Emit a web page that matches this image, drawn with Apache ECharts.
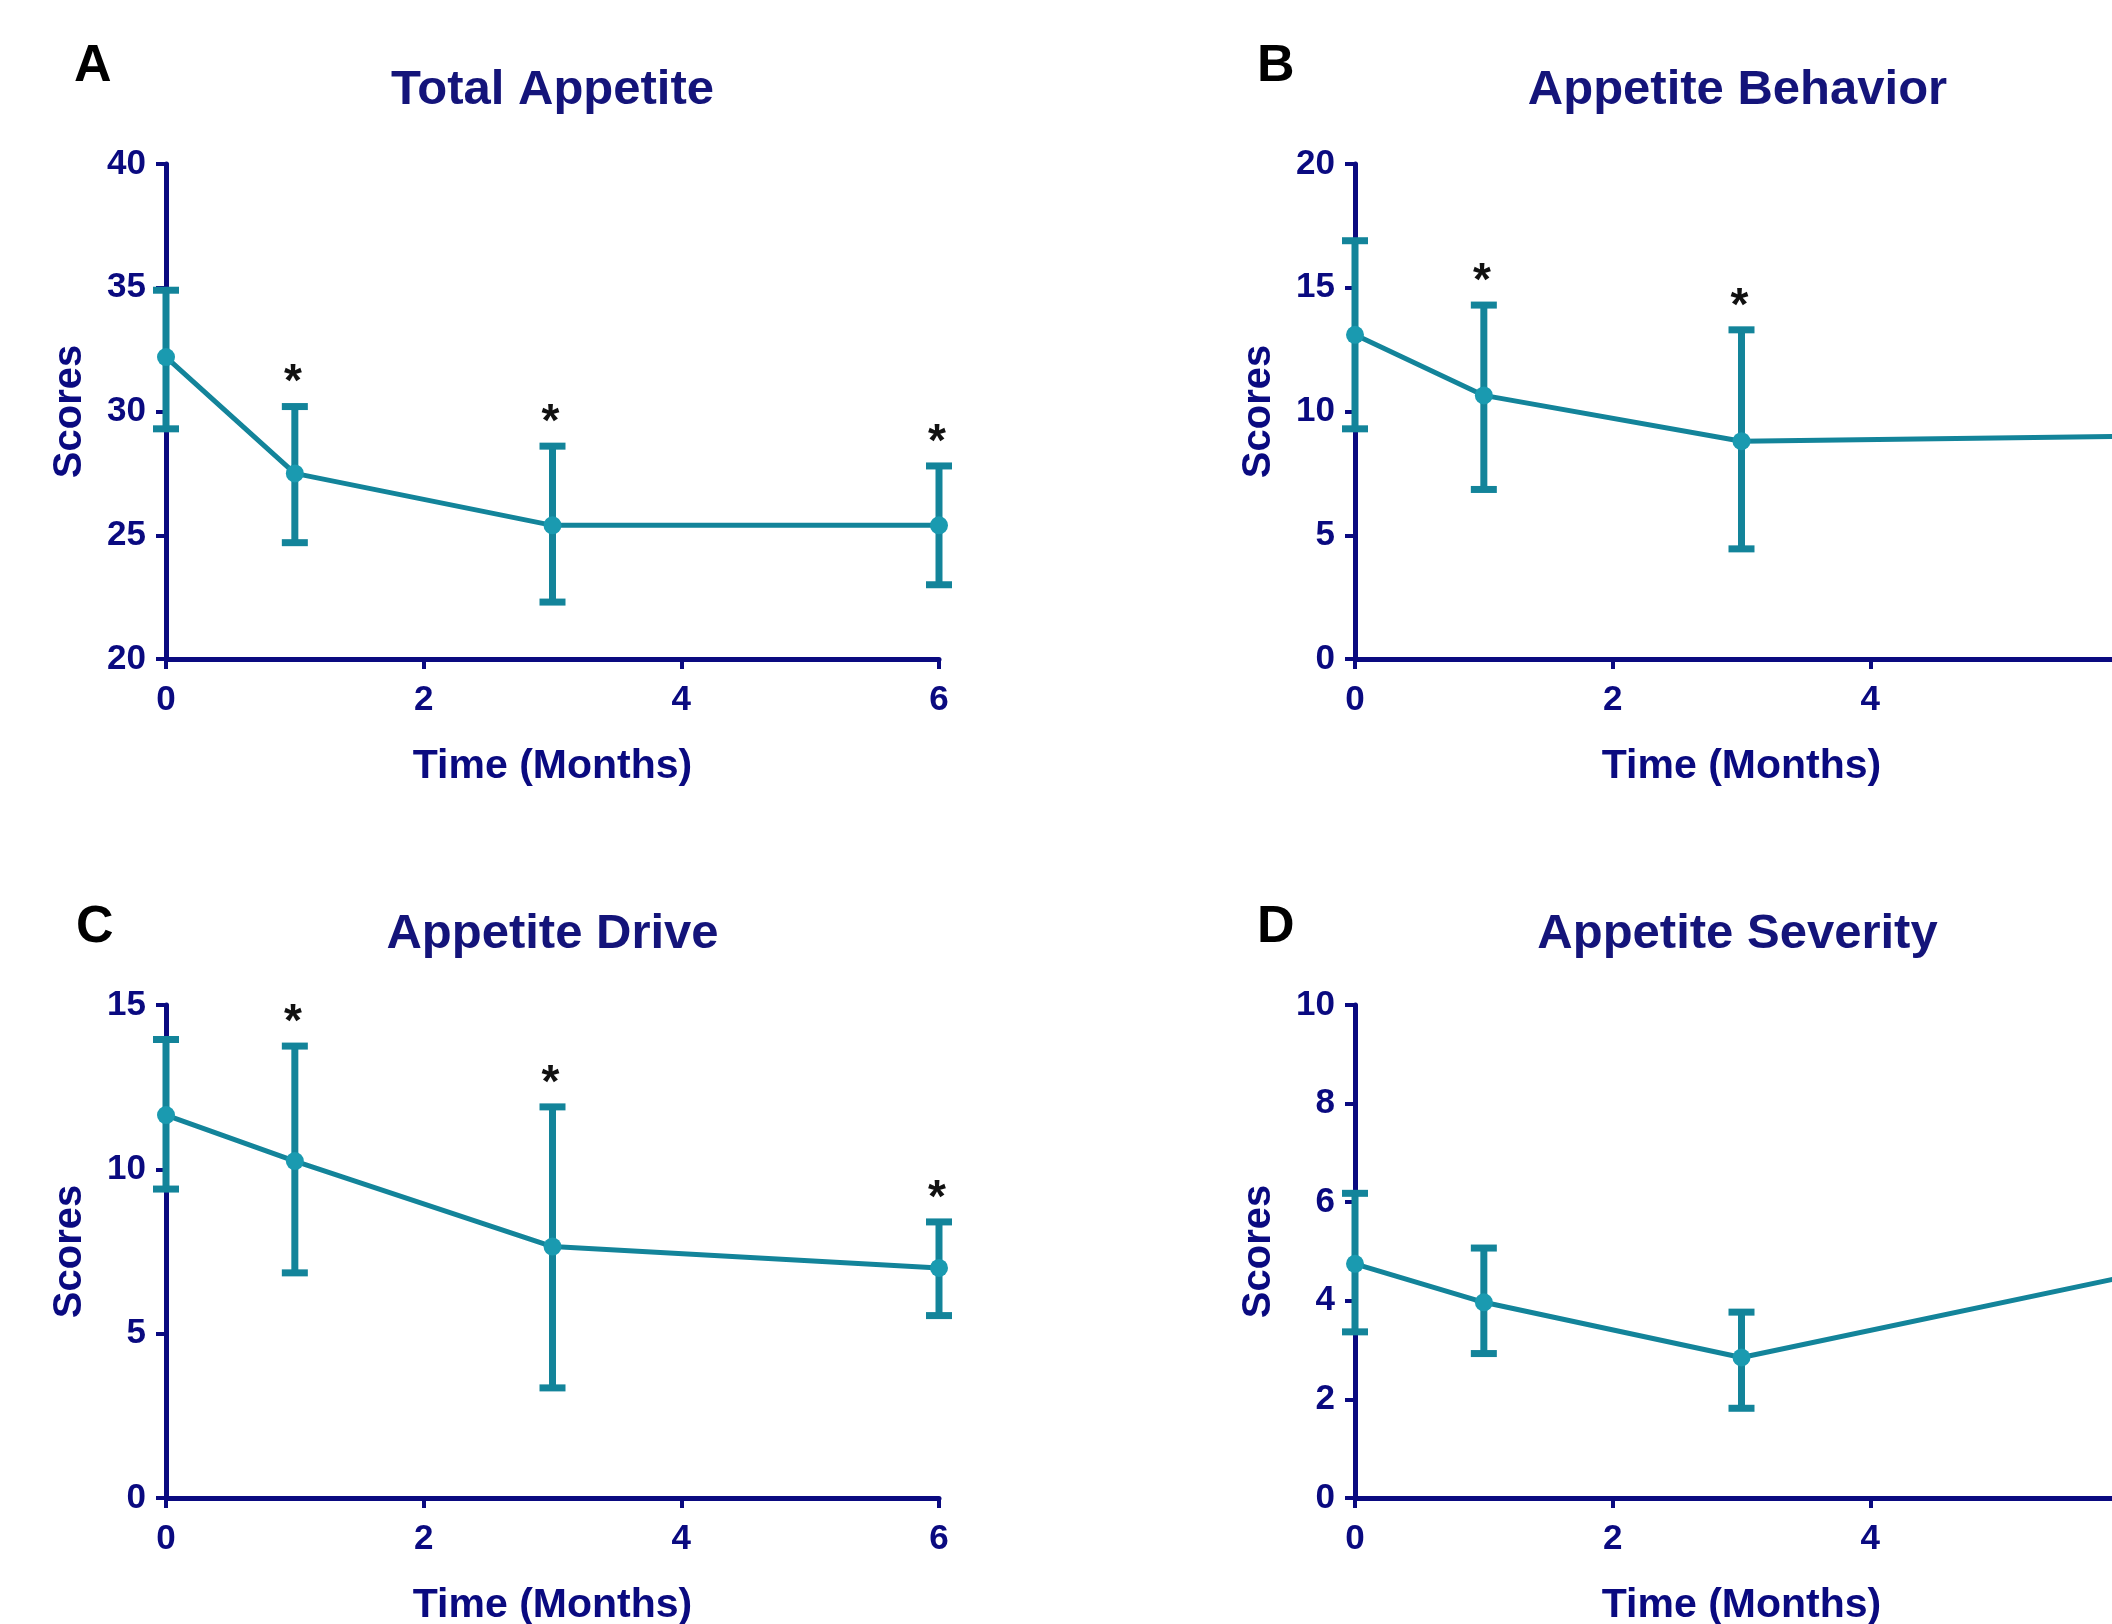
<!DOCTYPE html>
<html><head><meta charset="utf-8">
<script src="https://cdn.jsdelivr.net/npm/echarts@6/dist/echarts.min.js"></script>
<style>html,body{margin:0;padding:0;background:#fff}#c{width:2112px;height:1624px}</style>
</head><body><div id="c"></div>
<script>
// ---- data ----
const months = [0, 1, 3, 6];
const xTicks = [0, 2, 4, 6];

const totalMean = [32.2, 27.5, 25.4, 25.4];
const totalLow  = [29.3, 24.7, 22.3, 23.0];
const totalHigh = [34.9, 30.2, 28.6, 27.8];
const totalStar = [0, 1, 1, 1];

const behaviorMean = [13.1, 10.65, 8.8, 9.0];
const behaviorLow  = [9.3, 6.85, 4.45, 5.6];
const behaviorHigh = [16.9, 14.3, 13.3, 12.4];
const behaviorStar = [0, 1, 1, 1];

const driveMean = [11.65, 10.25, 7.65, 7.0];
const driveLow  = [9.4, 6.85, 3.35, 5.55];
const driveHigh = [13.95, 13.75, 11.9, 8.4];
const driveStar = [0, 1, 1, 1];

const severityMean = [4.75, 3.97, 2.85, 4.5];
const severityLow  = [3.37, 2.93, 1.82, 3.2];
const severityHigh = [6.18, 5.07, 3.77, 5.8];
const severityStar = [0, 0, 0, 0];

const panelTitles = ['Total Appetite', 'Appetite Behavior', 'Appetite Drive', 'Appetite Severity'];
const panelLetters = ['A', 'B', 'C', 'D'];
const yMins = [20, 0, 0, 0];
const yMaxs = [40, 20, 15, 10];
const ySteps = [5, 5, 5, 2];
const xName = 'Time (Months)';
const yName = 'Scores';

// ---- layout / style ----
const FONT = '"Liberation Sans", Arial, sans-serif';
const NAVY = '#0a0a80';
const LINE = '#13849a';
const MARK = '#1a9ab0';
const gridLeft = [166, 1355, 166, 1355];
const gridTop = [164, 164, 1005, 1005];
const gridW = 773;
const gridH = [495, 495, 493, 493];
const titleY = [66, 66, 910, 910];
const letterX = [74, 1257, 76, 1257];
const letterY = [41, 41, 902, 902];

const means = [totalMean, behaviorMean, driveMean, severityMean];
const lows = [totalLow, behaviorLow, driveLow, severityLow];
const highs = [totalHigh, behaviorHigh, driveHigh, severityHigh];
const stars = [totalStar, behaviorStar, driveStar, severityStar];

const grids = [], xAxes = [], yAxes = [], series = [], graphics = [];
for (let i = 0; i < 4; i++) {
  grids.push({left: gridLeft[i], top: gridTop[i], width: gridW, height: gridH[i],
    containLabel: false, outerBoundsMode: 'none'});
  xAxes.push({
    type: 'value', gridIndex: i, min: 0, max: 6, interval: 2,
    axisLine: {show: true, onZero: false, lineStyle: {color: NAVY, width: 5}},
    axisTick: {show: true, length: 10, lineStyle: {color: NAVY, width: 4}},
    axisLabel: {color: NAVY, fontWeight: 'bold', fontSize: 35, fontFamily: FONT, margin: 24,
      formatter: v => xTicks.includes(v) ? String(v) : ''},
    splitLine: {show: false},
    name: xName, nameLocation: 'middle', nameGap: 87,
    nameTextStyle: {color: NAVY, fontWeight: 'bold', fontSize: 41, fontFamily: FONT}
  });
  yAxes.push({
    type: 'value', gridIndex: i, min: yMins[i], max: yMaxs[i], interval: ySteps[i],
    axisLine: {show: true, lineStyle: {color: NAVY, width: 5}},
    axisTick: {show: true, length: 10, lineStyle: {color: NAVY, width: 4}},
    axisLabel: {color: NAVY, fontWeight: 'bold', fontSize: 35, fontFamily: FONT, margin: 20},
    splitLine: {show: false},
    name: yName, nameLocation: 'middle', nameGap: 76,
    nameTextStyle: {color: NAVY, fontWeight: 'bold', fontSize: 40, fontFamily: FONT}
  });
  const errData = months.map((m, j) => [m, lows[i][j], highs[i][j], stars[i][j]]);
  series.push({
    type: 'custom', xAxisIndex: i, yAxisIndex: i, z: 2, clip: false,
    data: errData, encode: {x: 0, y: [1, 2]},
    renderItem: (params, api) => {
      const x = api.value(0);
      const pLo = api.coord([x, api.value(1)]);
      const pHi = api.coord([x, api.value(2)]);
      const hw = 13;
      const st = {stroke: LINE, lineWidth: 7};
      const ch = [
        {type: 'line', shape: {x1: pLo[0], y1: pLo[1], x2: pHi[0], y2: pHi[1]}, style: st},
        {type: 'line', shape: {x1: pHi[0] - hw, y1: pHi[1], x2: pHi[0] + hw, y2: pHi[1]}, style: st},
        {type: 'line', shape: {x1: pLo[0] - hw, y1: pLo[1], x2: pLo[0] + hw, y2: pLo[1]}, style: st}
      ];
      if (api.value(3)) {
        ch.push({type: 'text', x: pHi[0] - 2, y: pHi[1] - 23,
          style: {text: '*', font: 'bold 46px ' + FONT, fill: '#111',
            align: 'center', verticalAlign: 'middle', textAlign: 'center', textVerticalAlign: 'middle'}});
      }
      return {type: 'group', children: ch};
    }
  });
  series.push({
    type: 'line', xAxisIndex: i, yAxisIndex: i, z: 3,
    data: months.map((m, j) => [m, means[i][j]]),
    symbol: 'circle', symbolSize: 18, showAllSymbol: true,
    lineStyle: {color: LINE, width: 5},
    itemStyle: {color: MARK},
    emphasis: {disabled: true}, animation: false
  });
  graphics.push({type: 'text', x: gridLeft[i] + gridW / 2 - 4 * (i % 2), y: titleY[i],
    style: {text: panelTitles[i], font: 'bold 49px ' + FONT, fill: '#14147a',
      align: 'center', verticalAlign: 'top', textAlign: 'center', textVerticalAlign: 'top'}});
  graphics.push({type: 'text', x: letterX[i], y: letterY[i],
    style: {text: panelLetters[i], font: 'bold 52px ' + FONT, fill: '#000',
      align: 'left', verticalAlign: 'top', textAlign: 'left', textVerticalAlign: 'top'}});
}

const chart = echarts.init(document.getElementById('c'), null, {renderer: 'canvas'});
chart.setOption({
  backgroundColor: '#ffffff',
  animation: false,
  grid: grids, xAxis: xAxes, yAxis: yAxes, series: series,
  graphic: {elements: graphics}
});
</script></body></html>
